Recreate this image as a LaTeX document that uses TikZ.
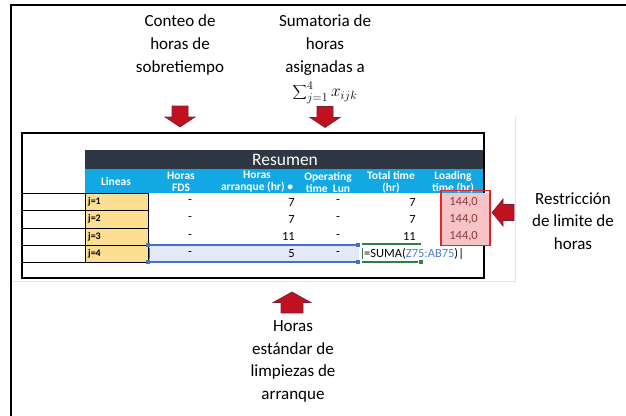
\documentclass[tikz,border=0pt]{standalone}
\usepackage{fontspec}
\setmainfont{Carlito}
\usetikzlibrary{positioning}
\definecolor{hdrdark}{HTML}{2F3744}
\definecolor{hdrblue}{HTML}{12A8E4}
\definecolor{cellgold}{HTML}{FDDF94}
\definecolor{badfill}{HTML}{F6C3C6}
\definecolor{badtext}{HTML}{8E3A3E}
\definecolor{limitred}{HTML}{E5232B}
\definecolor{arrowred}{HTML}{C0111F}
\definecolor{arrowedge}{HTML}{7A1F3D}
\definecolor{selblue}{HTML}{4472C4}
\definecolor{selfill}{HTML}{E4EAF5}
\definecolor{refblue}{HTML}{4F81D0}
\definecolor{editgreen}{HTML}{2E7D4A}
\begin{document}
\begin{tikzpicture}
    [x=1pt,y=-1pt,
    note/.style={align=center,inner sep=0pt,font=\fontsize{17}{22.6}\selectfont},
    flecha/.pic={\filldraw[fill=arrowred,draw=arrowedge,line width=0.6pt]
      (-\fl/2,-\fw) -- (\fl/2-\fh,-\fw) -- (\fl/2-\fh,-\fW) -- (\fl/2,0)
      -- (\fl/2-\fh,\fW) -- (\fl/2-\fh,\fw) -- (-\fl/2,\fw) -- cycle;},
    hdr/.style={align=center,text=white,inner sep=0pt,font=\bfseries\fontsize{11.5}{12}\selectfont},
    val/.style={inner sep=0pt,font=\fontsize{12.5}{14}\selectfont},
    jlab/.style={anchor=west,inner sep=0pt,font=\bfseries\fontsize{10}{12}\selectfont},
    handle/.style={fill=#1,minimum size=4pt,inner sep=0pt}]
    \useasboundingbox (0,0) rectangle (626,415);
    \draw[line width=2.4pt] (11,420) -- (11,5) -- (630,5);
    \draw[black!10] (515,116) -- (515,281) -- (13,281);

    % notes and arrows
    \node[note] (conteo) at (180,45) {Conteo de\\horas de\\sobretiempo};
    \node[note] (sumatoria) at (325,45) {Sumatoria de\\horas\\asignadas a};
    \node[note,below=6pt of sumatoria] (sumaformula) {$\displaystyle\sum\nolimits_{j=1}^{4} x_{ijk}$};
    \node[note] (estandar) at (293,361.5) {Horas\\estándar de\\limpiezas de\\arranque};
    \node[note] (restriccion) at (573,221) {Restricción\\de limite de\\horas};
    % length/head length/head half width/shaft half width
    \foreach \nom/\pos/\ang/\fl/\fh/\fW/\fw in {
        conteoflecha/{(180,116.5)}/270/21/10/15/8,
        sumaflecha/{(325,117)}/270/21/10/15/8,
        estandarflecha/{(292,302.5)}/90/21/10.5/19/11,
        limiteflecha/{(503,212.5)}/180/22/11/13.5/8}
      \pic[rotate=\ang] (\nom) at \pos {flecha};

    % table
    \fill[hdrdark] (85,150) rectangle (483,169);
    \fill[hdrblue] (85,169) rectangle (483,193);
    \node[text=white,inner sep=0pt,font=\fontsize{17.5}{20}\selectfont] (resumen) at (285,160) {Resumen};
    \node[hdr] (lineas) at (116,182) {Lineas};
    \node[hdr] (fds) at (181,182) {Horas\\FDS};
    \node[hdr] (arranque) at (257,182) {Horas\\arranque (hr) •};
    \node[hdr] (operating) at (328,182) {Operating\\time\ \ Lun};
    \node[hdr] (total) at (391,182) {Total time\\(hr)};
    \node[hdr] (loading) at (453,182) {Loading\\time (hr)};

    \fill[selfill] (148,245) rectangle (359,262);
    \foreach \i/\top/\bot in {1/193/210,2/210/228,3/228/245,4/245/262}{
      \draw[line width=0.8pt] (22,\top) rectangle (85,\bot);
      \filldraw[fill=cellgold,draw=black,line width=0.8pt] (85,\top) rectangle (148,\bot);
      \node[jlab] (j\i) at (88,{(\top+\bot)/2}) {j=\i};
      \node[val] (fds\i) at (190,{(\top+\bot)/2}) {-};
      \node[val] (oper\i) at (338,{(\top+\bot)/2}) {-};
    }
    \foreach \i/\y/\hrs in {1/202/7,2/219/7,3/236.5/11}{
      \node[val,anchor=east] (arr\i) at (295,\y) {\hrs};
      \node[val,anchor=east] (tot\i) at (416,\y) {\hrs};
    }
    \node[val,anchor=east] (arr4) at (295,253.5) {5};
    \draw[line width=2pt] (22,133) rectangle (484,278);

    % loading limit
    \fill[badfill] (441,193) rectangle (490,245);
    \foreach \i/\y in {1/202,2/219,3/236.5}
      \node[val,anchor=east,text=badtext] (load\i) at (478,\y) {144,0};
    \draw[limitred,line width=1.8pt] (441,190.5) rectangle (490,245.5);

    % selection and formula
    \draw[selblue,line width=1.6pt] (148,245) -- (359,245) (148,262) -- (359,262);
    \draw[selblue,line width=0.8pt] (149.5,248) -- (149.5,259);
    \foreach \p in {(148,245),(148,262),(358,245),(358,262)}
      \node[handle=selblue] at \p {};
    \draw[editgreen,line width=1.6pt] (362,244) -- (421,244) (362,262) -- (418,262);
    \draw[editgreen,line width=1pt] (362,248) -- (362,259);
    \node[handle=editgreen] at (421,262) {};
    \node[val,anchor=west] (formula) at (364,253.5) {=SUMA(\textcolor{refblue}{Z75:AB75})|};
\end{tikzpicture}
\end{document}
